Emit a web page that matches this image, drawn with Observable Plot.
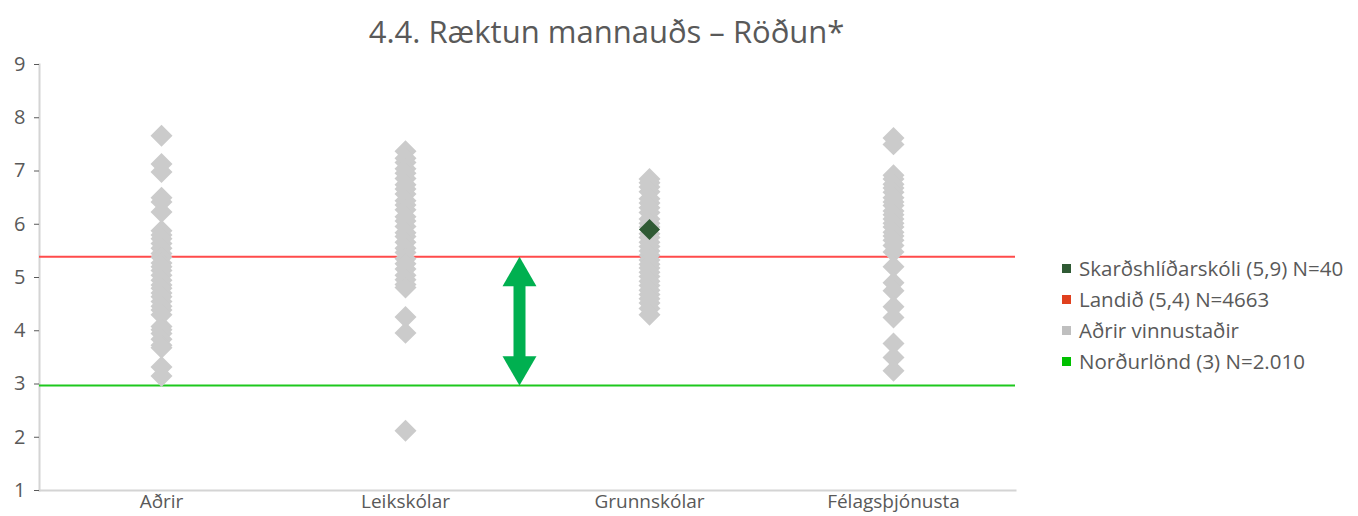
<!DOCTYPE html>
<html>
<head>
<meta charset="utf-8">
<script src="https://cdn.jsdelivr.net/npm/d3@7"></script>
<script src="https://cdn.jsdelivr.net/npm/@observablehq/plot@0.6"></script>
<style>
  html, body { margin: 0; padding: 0; background: #ffffff; }
  body { width: 1358px; height: 516px; position: relative; overflow: hidden; font-family: "Open Sans", "Noto Sans", sans-serif; }
  #title { position: absolute; left: 0; top: 9px; width: 1213px; text-align: center; font-size: 31px; color: #595959; line-height: 44px; }
  #chart { position: absolute; left: 0; top: 50px; }
  #legend { position: absolute; left: 1062px; top: 253px; font-size: 20.5px; color: #595959; }
  .row { height: 31px; line-height: 30px; white-space: nowrap; }
  .sw { display: inline-block; width: 9px; height: 9px; margin-right: 8px; vertical-align: middle; position: relative; top: -2px; }
</style>
</head>
<body>
<div id="title">4.4. Ræktun mannauðs – Röðun*</div>
<div id="chart"></div>
<div id="legend"></div>
<script>
// ---- data ----
const categories = ["Aðrir", "Leikskólar", "Grunnskólar", "Félagsþjónusta"];
const yTicks = [1, 2, 3, 4, 5, 6, 7, 8, 9];

const adrirValues = [7.66, 7.13, 6.98, 6.5, 6.42, 6.23, 5.88, 5.8, 5.73, 5.64, 5.55, 5.45, 5.38, 5.27, 5.2, 5.13, 5.04, 4.95, 4.86, 4.8, 4.71, 4.64, 4.55, 4.46, 4.39, 4.3, 4.08, 4.02, 3.95, 3.84, 3.73, 3.68, 3.32, 3.15];
const leikskolarValues = [7.37, 7.24, 7.16, 7.04, 6.96, 6.86, 6.74, 6.66, 6.57, 6.44, 6.36, 6.27, 6.14, 6.06, 5.96, 5.84, 5.77, 5.66, 5.55, 5.47, 5.35, 5.26, 5.16, 5.04, 4.96, 4.87, 4.81, 4.26, 3.96, 2.12];
const grunnskolarValues = [6.85, 6.78, 6.7, 6.61, 6.48, 6.4, 6.31, 6.22, 6.1, 6.02, 5.95, 5.82, 5.75, 5.66, 5.58, 5.5, 5.42, 5.33, 5.25, 5.18, 5.1, 5.02, 4.93, 4.85, 4.76, 4.68, 4.6, 4.52, 4.42, 4.3];
const felagsValues = [7.62, 7.5, 6.92, 6.85, 6.75, 6.68, 6.6, 6.5, 6.42, 6.35, 6.25, 6.18, 6.1, 6.02, 5.95, 5.85, 5.78, 5.7, 5.6, 5.48, 5.2, 4.9, 4.75, 4.45, 4.25, 3.76, 3.5, 3.25];

const highlightName = "Skarðshlíðarskóli";
const highlightCategory = "Grunnskólar";
const highlightValue = 5.9;
const nationalValue = 5.39;   // Landið
const nordicValue = 2.97;     // Norðurlönd

const legendLabels = ["Skarðshlíðarskóli (5,9) N=40", "Landið (5,4) N=4663", "Aðrir vinnustaðir", "Norðurlönd (3) N=2.010"];
const legendColors = ["#2f5a34", "#e0401e", "#bfbfbf", "#00c000"];

// ---- build table ----
const seriesByCat = [adrirValues, leikskolarValues, grunnskolarValues, felagsValues];
const points = [];
categories.forEach((c, i) => seriesByCat[i].forEach(v => points.push({cat: c, value: v})));
const highlight = [{cat: highlightCategory, value: highlightValue, name: highlightName}];
const arrowData = [{cat: "Leikskólar", top: nationalValue, bottom: nordicValue}];

const chart = Plot.plot({
  width: 1358,
  height: 466,
  marginTop: 14,
  marginBottom: 26,
  marginLeft: 39,
  marginRight: 343,
  style: {fontFamily: "'Open Sans', 'Noto Sans', sans-serif", background: "transparent"},
  x: {type: "point", domain: categories, padding: 0.5},
  y: {domain: [1, 9]},
  marks: [
    Plot.frame({anchor: "left", stroke: "#d4d4d4", strokeWidth: 2}),
    Plot.frame({anchor: "bottom", stroke: "#d4d4d4", strokeWidth: 2}),
    Plot.axisY({ticks: yTicks, tickSize: 5, tickPadding: 9, fontSize: 20, color: "#595959", stroke: "#595959", label: null, tickFormat: d => d}),
    Plot.axisX({tickSize: 0, tickPadding: 4, fontSize: 19, color: "#595959", label: null}),
    Plot.ruleY([nationalValue], {stroke: "#ff4b4b", strokeWidth: 2}),
    Plot.ruleY([nordicValue], {stroke: "#1ec81e", strokeWidth: 2}),
    Plot.dot(points, {x: "cat", y: "value", symbol: "diamond2", r: 9.9, fill: "#cbcbcb"}),
    Plot.dot(highlight, {x: "cat", y: "value", symbol: "diamond2", r: 9.5, fill: "#2f5a34"}),
    // double-headed arrow between national and Nordic lines
    Plot.ruleX(arrowData, {x: "cat", y1: "top", y2: "bottom", dx: 114, stroke: "#00b050", strokeWidth: 12, insetTop: 25, insetBottom: 25}),
    Plot.dot(arrowData, {x: "cat", y: "top", dx: 114, dy: 19.6, symbol: "triangle", r: 12.6, fill: "#00b050"}),
    Plot.dot(arrowData, {x: "cat", y: "bottom", dx: 114, dy: -19.6, symbol: "triangle", r: 12.6, rotate: 180, fill: "#00b050"})
  ]
});
document.getElementById("chart").appendChild(chart);

const legend = document.getElementById("legend");
legendLabels.forEach((t, i) => {
  const row = document.createElement("div");
  row.className = "row";
  const sw = document.createElement("span");
  sw.className = "sw";
  sw.style.background = legendColors[i];
  row.appendChild(sw);
  row.appendChild(document.createTextNode(t));
  legend.appendChild(row);
});
</script>
</body>
</html>
